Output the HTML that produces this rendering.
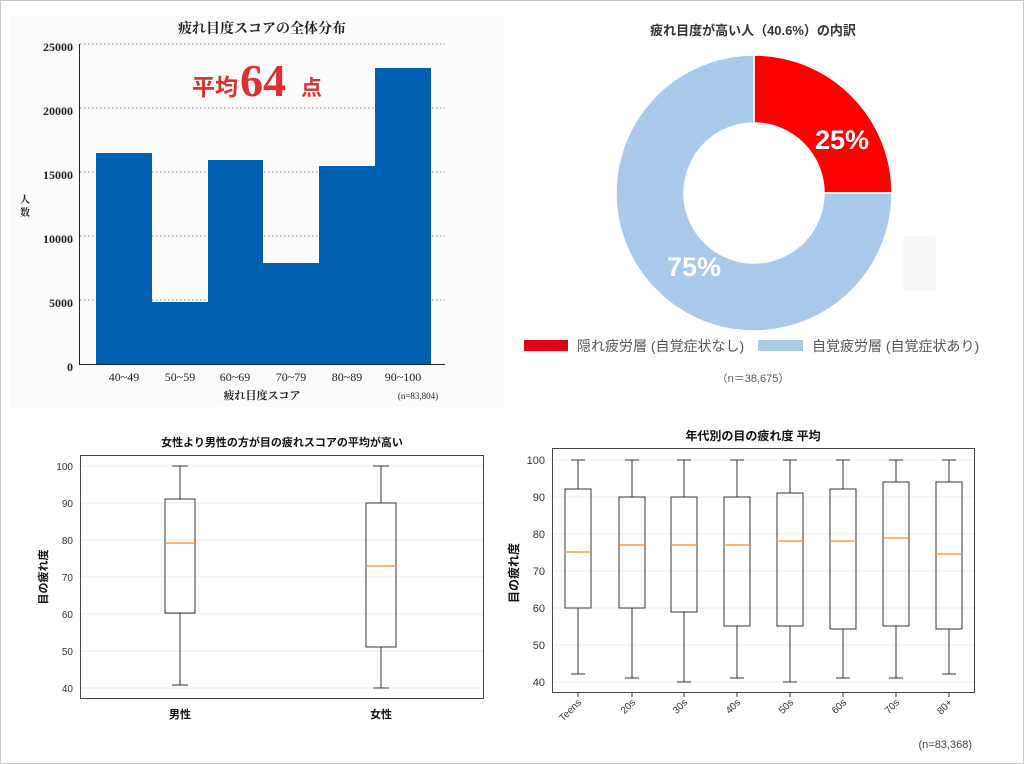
<!DOCTYPE html>
<html><head><meta charset="utf-8"><style>
body{margin:0;background:#fff}
svg{display:block}
text{font-family:"Liberation Sans","Noto Sans CJK JP",sans-serif}
text.s{font-family:"Liberation Serif","Noto Serif CJK SC",serif}
</style></head><body>
<svg width="1024" height="764" viewBox="0 0 1024 764" xmlns="http://www.w3.org/2000/svg">
<rect x="0.5" y="0.5" width="1023" height="763" fill="#fff" stroke="#c8c8c8"/>
<rect x="10" y="15" width="495" height="392" fill="#fbfbfb"/>
<!-- Top-left histogram -->
<text class="s" x="262" y="33" text-anchor="middle" font-size="14" font-weight="bold" fill="#222">疲れ目度スコアの全体分布</text>
<g stroke="#888" stroke-dasharray="1.5,2.5" stroke-width="1">
<line x1="80" y1="44" x2="445" y2="44"/><line x1="80" y1="108" x2="445" y2="108"/><line x1="80" y1="172" x2="445" y2="172"/><line x1="80" y1="236" x2="445" y2="236"/><line x1="80" y1="300" x2="445" y2="300"/>
</g>
<g fill="#0061b2">
<rect x="96" y="153" width="56" height="211"/><rect x="152" y="302" width="56" height="62"/><rect x="208" y="160" width="55" height="204"/><rect x="263" y="263" width="56" height="101"/><rect x="319" y="166" width="56" height="198"/><rect x="375" y="68" width="56" height="296"/>
</g>
<line x1="79.5" y1="44" x2="79.5" y2="364" stroke="#222"/><line x1="79" y1="364.5" x2="445" y2="364.5" stroke="#222"/>
<g font-size="12" fill="#222" text-anchor="end" font-weight="bold">
<text class="s" x="73" y="51">25000</text><text class="s" x="73" y="115">20000</text><text class="s" x="73" y="179">15000</text><text class="s" x="73" y="243">10000</text><text class="s" x="73" y="307">5000</text><text class="s" x="73" y="371">0</text>
</g>
<g font-size="12" fill="#222" text-anchor="middle">
<text class="s" x="124" y="381">40~49</text><text class="s" x="180" y="381">50~59</text><text class="s" x="235" y="381">60~69</text><text class="s" x="291" y="381">70~79</text><text class="s" x="347" y="381">80~89</text><text class="s" x="403" y="381">90~100</text>
</g>
<text class="s" x="262" y="399" text-anchor="middle" font-size="11" font-weight="bold" fill="#222">疲れ目度スコア</text>
<text class="s" x="418" y="399" text-anchor="middle" font-size="9" fill="#222">(n=83,804)</text>
<text class="s" x="25" y="203" text-anchor="middle" font-size="10" font-weight="bold" fill="#222">人</text>
<text class="s" x="25" y="216" text-anchor="middle" font-size="10" font-weight="bold" fill="#222">数</text>
<text x="192" y="95" font-size="23" font-weight="bold" fill="#dd3030">平均</text>
<text class="s" x="240" y="96" font-size="46" font-weight="bold" fill="#dd3030">64</text>
<text x="301" y="95" font-size="21" font-weight="bold" fill="#dd3030">点</text>
<!-- Donut -->
<text x="753" y="35" text-anchor="middle" font-size="13" font-weight="bold" fill="#333">疲れ目度が高い人（40.6%）の内訳</text>
<path d="M754 55 A138 138 0 0 1 892 193 L824 193 A70 70 0 0 0 754 123 Z" fill="#ff0000" stroke="#fff" stroke-width="1.5"/>
<path d="M892 193 A138 138 0 1 1 754 55 L754 123 A70 70 0 1 0 824 193 Z" fill="#a8c9ea" stroke="#fff" stroke-width="1.5"/>
<text x="842" y="149" text-anchor="middle" font-size="27" font-weight="bold" fill="#fff">25%</text>
<text x="694" y="276" text-anchor="middle" font-size="27" font-weight="bold" fill="#fff">75%</text>
<rect x="903" y="236" width="33" height="55" rx="4" fill="#f8f8f8"/>
<rect x="524" y="340" width="44" height="11" fill="#e60012"/>
<text x="577" y="351" font-size="14" fill="#555">隠れ疲労層 (自覚症状なし)</text>
<rect x="758" y="340" width="45" height="11" fill="#a8cbe4"/>
<text x="812" y="351" font-size="14" fill="#555">自覚疲労層 (自覚症状あり)</text>
<text x="753" y="382" text-anchor="middle" font-size="11" fill="#555">（n＝38,675）</text>
<!-- Bottom-left boxplot -->
<text x="282" y="446" text-anchor="middle" font-size="11" font-weight="bold" fill="#111">女性より男性の方が目の疲れスコアの平均が高い</text>
<g stroke="#e8e8e8"><line x1="80" y1="466" x2="484" y2="466"/><line x1="80" y1="503" x2="484" y2="503"/><line x1="80" y1="540" x2="484" y2="540"/><line x1="80" y1="577" x2="484" y2="577"/><line x1="80" y1="614" x2="484" y2="614"/><line x1="80" y1="651" x2="484" y2="651"/><line x1="80" y1="688" x2="484" y2="688"/></g>
<rect x="80.5" y="455.5" width="403" height="243" fill="none" stroke="#444"/>
<g font-size="10" fill="#333" text-anchor="end"><text x="73" y="470">100</text><text x="73" y="507">90</text><text x="73" y="544">80</text><text x="73" y="581">70</text><text x="73" y="618">60</text><text x="73" y="655">50</text><text x="73" y="692">40</text></g>
<g stroke="#333" fill="none">
<line x1="180" y1="466" x2="180" y2="499"/><line x1="172" y1="466" x2="188" y2="466"/><rect x="165" y="499" width="30" height="114"/><line x1="180" y1="613" x2="180" y2="685"/><line x1="172" y1="685" x2="188" y2="685"/>
<line x1="381" y1="466" x2="381" y2="503"/><line x1="373" y1="466" x2="389" y2="466"/><rect x="366" y="503" width="30" height="144"/><line x1="381" y1="647" x2="381" y2="688"/><line x1="373" y1="688" x2="389" y2="688"/>
</g>
<line x1="165" y1="543" x2="195" y2="543" stroke="#ff9a40" stroke-width="1.5"/>
<line x1="366" y1="566" x2="396" y2="566" stroke="#ff9a40" stroke-width="1.5"/>
<text x="180" y="718" text-anchor="middle" font-size="11" font-weight="bold" fill="#111">男性</text>
<text x="381" y="718" text-anchor="middle" font-size="11" font-weight="bold" fill="#111">女性</text>
<text transform="translate(47,577) rotate(-90)" text-anchor="middle" font-size="11" font-weight="bold" fill="#111">目の疲れ度</text>
<!-- Bottom-right boxplot -->
<text x="753" y="440" text-anchor="middle" font-size="12" font-weight="bold" fill="#111">年代別の目の疲れ度 平均</text>
<g stroke="#ececec"><line x1="552" y1="460" x2="975" y2="460"/><line x1="552" y1="497" x2="975" y2="497"/><line x1="552" y1="534" x2="975" y2="534"/><line x1="552" y1="571" x2="975" y2="571"/><line x1="552" y1="608" x2="975" y2="608"/><line x1="552" y1="645" x2="975" y2="645"/><line x1="552" y1="682" x2="975" y2="682"/></g>
<rect x="552.5" y="448.5" width="422" height="244" fill="none" stroke="#444"/>
<g font-size="11" fill="#333" text-anchor="end"><text x="545" y="464">100</text><text x="545" y="501">90</text><text x="545" y="538">80</text><text x="545" y="575">70</text><text x="545" y="612">60</text><text x="545" y="649">50</text><text x="545" y="686">40</text></g>
<g stroke="#333" fill="none">
<path d="M578 460V489M571 460H585M565 489H591V608H565ZM578 608V674M571 674H585"/>
<path d="M632 460V497M625 460H639M619 497H645V608H619ZM632 608V678M625 678H639"/>
<path d="M684 460V497M677 460H691M671 497H697V612H671ZM684 612V682M677 682H691"/>
<path d="M737 460V497M730 460H744M724 497H750V626H724ZM737 626V678M730 678H744"/>
<path d="M790 460V493M783 460H797M777 493H803V626H777ZM790 626V682M783 682H797"/>
<path d="M843 460V489M836 460H850M830 489H856V629H830ZM843 629V678M836 678H850"/>
<path d="M896 460V482M889 460H903M883 482H909V626H883ZM896 626V678M889 678H903"/>
<path d="M949 460V482M942 460H956M936 482H962V629H936ZM949 629V674M942 674H956"/>
</g>
<g stroke="#ff9a40" stroke-width="1.5">
<line x1="565" y1="552" x2="591" y2="552"/><line x1="619" y1="545" x2="645" y2="545"/><line x1="671" y1="545" x2="697" y2="545"/><line x1="724" y1="545" x2="750" y2="545"/><line x1="777" y1="541" x2="803" y2="541"/><line x1="830" y1="541" x2="856" y2="541"/><line x1="883" y1="538" x2="909" y2="538"/><line x1="936" y1="554" x2="962" y2="554"/>
</g>
<g stroke="#333"><line x1="578" y1="693" x2="578" y2="697"/><line x1="632" y1="693" x2="632" y2="697"/><line x1="684" y1="693" x2="684" y2="697"/><line x1="737" y1="693" x2="737" y2="697"/><line x1="790" y1="693" x2="790" y2="697"/><line x1="843" y1="693" x2="843" y2="697"/><line x1="896" y1="693" x2="896" y2="697"/><line x1="949" y1="693" x2="949" y2="697"/></g>
<g font-size="10" fill="#333" text-anchor="end">
<text transform="translate(582,703) rotate(-45)">Teens</text><text transform="translate(636,703) rotate(-45)">20s</text><text transform="translate(688,703) rotate(-45)">30s</text><text transform="translate(741,703) rotate(-45)">40s</text><text transform="translate(794,703) rotate(-45)">50s</text><text transform="translate(847,703) rotate(-45)">60s</text><text transform="translate(900,703) rotate(-45)">70s</text><text transform="translate(953,703) rotate(-45)">80+</text>
</g>
<text transform="translate(518,573) rotate(-90)" text-anchor="middle" font-size="12" font-weight="bold" fill="#111">目の疲れ度</text>
<text x="972" y="748" text-anchor="end" font-size="11" fill="#444">(n=83,368)</text>
</svg>
</body></html>
